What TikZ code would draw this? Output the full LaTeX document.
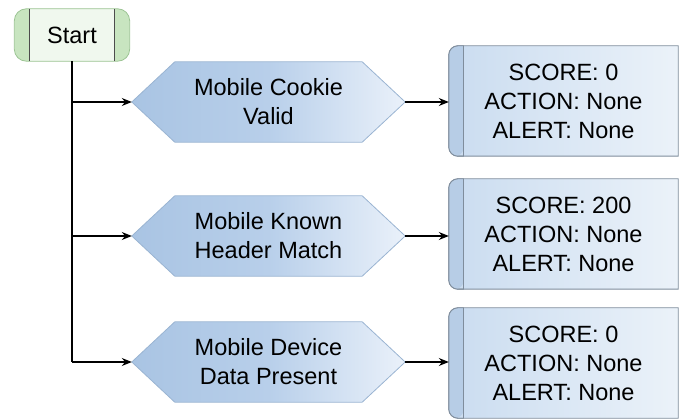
\documentclass[tikz,border=0pt]{standalone}
\usepackage{fontspec}
\setmainfont{Liberation Sans}
\usetikzlibrary{arrows.meta,backgrounds}

\definecolor{hexdark}{HTML}{A9C4E3}
\definecolor{hexmid}{HTML}{B8CFEA}
\definecolor{hexlight}{HTML}{EAF1FA}
\definecolor{hexedge}{HTML}{9AB4D2}
\definecolor{resleft}{HTML}{CADCF0}
\definecolor{resright}{HTML}{EBF2F9}
\definecolor{resstrip}{HTML}{B7CDE6}
\definecolor{resedge}{HTML}{7F8D9C}
\definecolor{startend}{HTML}{C8E5C0}
\definecolor{startmid}{HTML}{F0F8EE}
\definecolor{startedge}{HTML}{9CC494}

\tikzset{
  flowtext/.style={font=\fontsize{23.5}{29}\selectfont, align=center, inner sep=0pt},
  startnode/.style={flowtext, minimum width=115pt, minimum height=52pt},
  hexnode/.style={flowtext, minimum width=273pt, minimum height=80pt},
  resnode/.style={flowtext, minimum width=229pt, minimum height=110pt},
  hexline/.style={draw=hexedge, line width=0.8pt, left color=hexdark, right color=hexlight, middle color=hexmid},
  resline/.style={draw=resedge, line width=0.9pt, left color=resleft, right color=resright},
  arr/.style={-{Stealth[length=10pt,width=8pt]}, line width=1.1pt, black},
}

\begin{document}
\begin{tikzpicture}[x=1pt,y=-1pt]
  \useasboundingbox (0,0) rectangle (682,419);

  \node[startnode] (start) at (72,35) {Start};

  \node[hexnode] (hex1) at (268.5,102) {Mobile Cookie\\Valid};
  \node[hexnode] (hex2) at (268.5,236) {Mobile Known\\Header Match};
  \node[hexnode] (hex3) at (268.5,362) {Mobile Device\\Data Present};

  \node[resnode] (res1) at (563.5,101) {SCORE: 0\\ACTION: None\\ALERT: None};
  \node[resnode] (res2) at (563.5,234) {SCORE: 200\\ACTION: None\\ALERT: None};
  \node[resnode] (res3) at (563.5,363) {SCORE: 0\\ACTION: None\\ALERT: None};

  \begin{scope}[on background layer]
   % start terminal
   \fill[startend, rounded corners=12pt] (start.north west) rectangle (start.south east);
   \fill[startmid] ([xshift=15pt]start.north west) rectangle ([xshift=-15pt]start.south east);
   \draw[startedge, line width=0.8pt, rounded corners=12pt] (start.north west) rectangle (start.south east);
   \draw[black!70, line width=0.9pt] ([xshift=15pt]start.north west) -- ([xshift=15pt]start.south west);
   \draw[black!70, line width=0.9pt] ([xshift=-15pt]start.north east) -- ([xshift=-15pt]start.south east);

   \foreach \n in {hex1,hex2,hex3}
     \draw[hexline] (\n.west) -- ([xshift=43pt]\n.north west) -- ([xshift=-43pt]\n.north east)
        -- (\n.east) -- ([xshift=-43pt]\n.south east) -- ([xshift=43pt]\n.south west) -- cycle;

   \foreach \n in {res1,res2,res3} {
     \draw[resline] (\n.north) [rounded corners=9pt] -- (\n.north west) -- (\n.south west)
        -- (\n.south) [sharp corners] -- (\n.south east) -- (\n.north east) -- cycle;
     \fill[resstrip] ([xshift=15pt]\n.north west) [rounded corners=9pt] -- (\n.north west)
        -- (\n.south west) -- ([xshift=15pt]\n.south west) [sharp corners] -- cycle;
     \draw[resedge, line width=0.9pt, rounded corners=9pt] ([xshift=15pt]\n.north west) -- (\n.north west)
        -- (\n.south west) -- ([xshift=15pt]\n.south west);
     \draw[resedge, line width=0.9pt] ([xshift=15pt]\n.north west) -- ([xshift=15pt]\n.south west);
   }
  \end{scope}

  \coordinate (b1) at (start.south |- hex1.west);
  \coordinate (b2) at (start.south |- hex2.west);
  \coordinate (b3) at (start.south |- hex3.west);

  \draw[line width=1.1pt] (start.south) -- (b3);
  \draw[arr] (b1) -- (hex1.west);
  \draw[arr] (b2) -- (hex2.west);
  \draw[arr] (b3) -- (hex3.west);

  \draw[arr] (hex1.east) -- (hex1.east -| res1.west);
  \draw[arr] (hex2.east) -- (hex2.east -| res2.west);
  \draw[arr] (hex3.east) -- (hex3.east -| res3.west);
\end{tikzpicture}
\end{document}
